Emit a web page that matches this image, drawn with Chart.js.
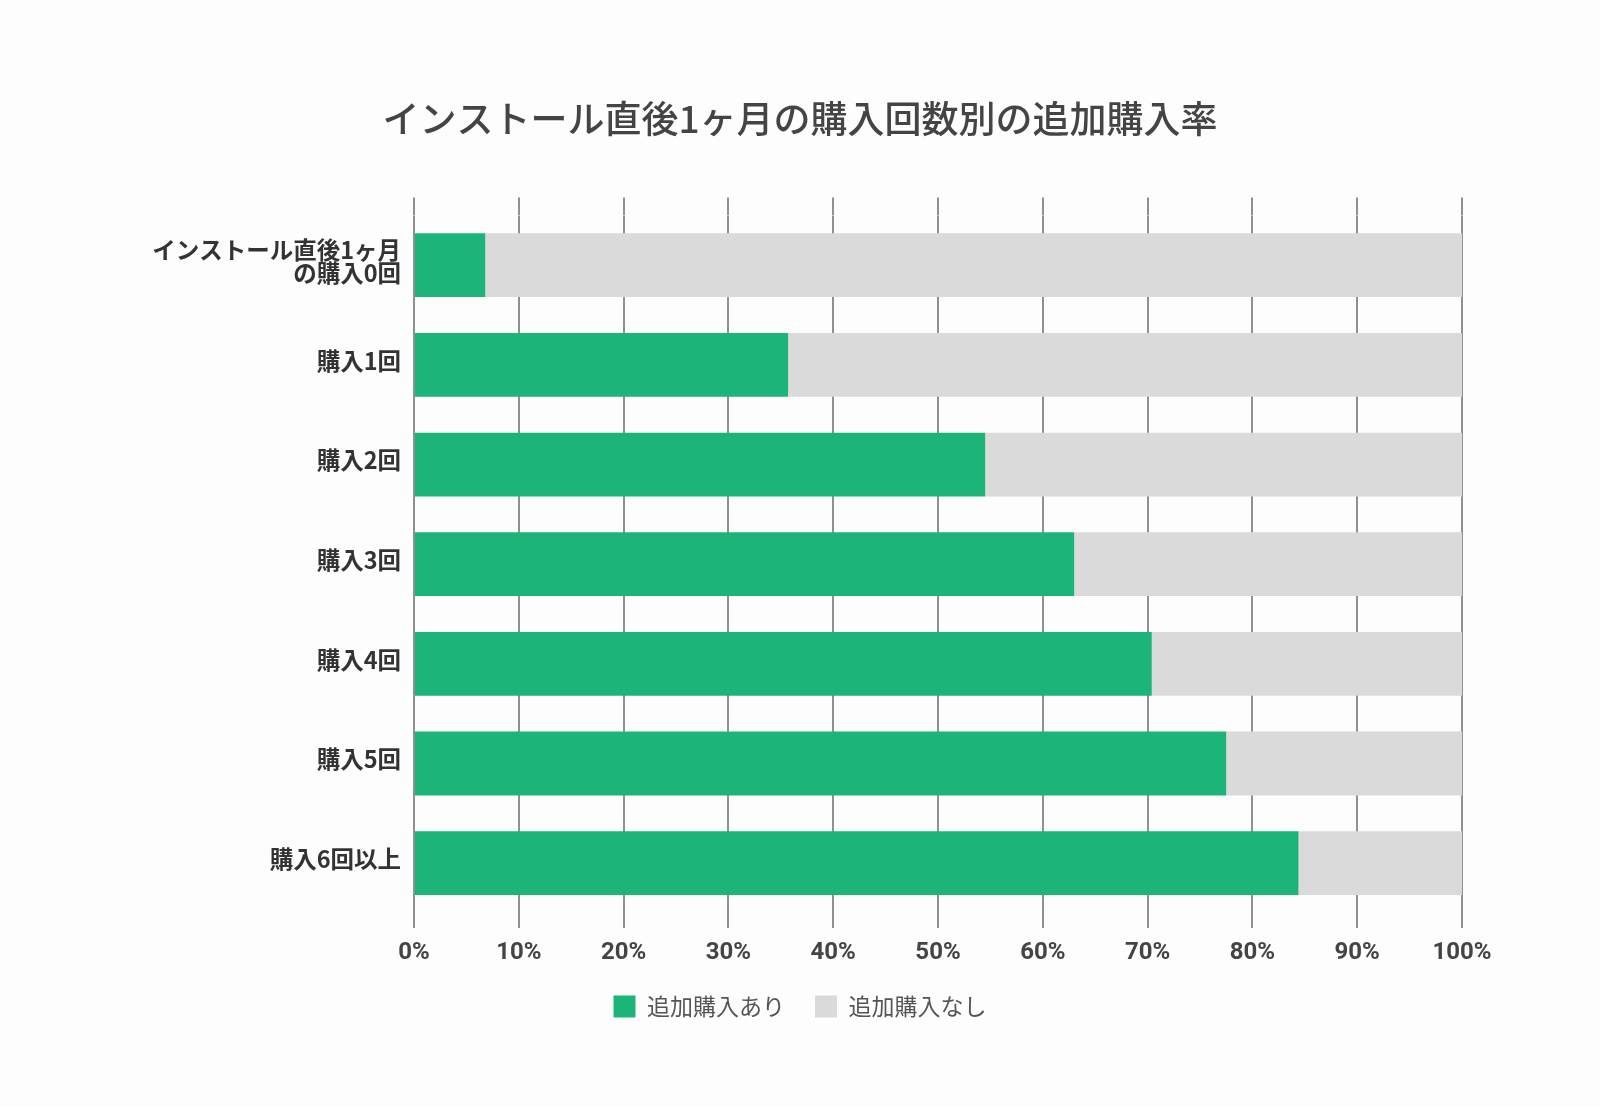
<!DOCTYPE html>
<html>
<head>
<meta charset="utf-8">
<script src="https://cdn.jsdelivr.net/npm/chart.js@4.4.1/dist/chart.umd.min.js"></script>
<style>
  html, body { margin: 0; padding: 0; background: #fcfdfc; }
  #wrap { width: 1600px; height: 1107px; position: relative; }
</style>
</head>
<body>
<div id="wrap"><canvas id="c"></canvas></div>
<script>
const titleText = 'インストール直後1ヶ月の購入回数別の追加購入率';
const categories = [
  ['インストール直後1ヶ月', 'の購入0回'],
  '購入1回', '購入2回', '購入3回', '購入4回', '購入5回', '購入6回以上'
];
const seriesNames = ['追加購入あり', '追加購入なし'];
const withPurchase = [6.8, 35.7, 54.5, 63.0, 70.4, 77.5, 84.4];
const withoutPurchase = [93.2, 64.3, 45.5, 37.0, 29.6, 22.5, 15.6];
const xTicks = [0, 10, 20, 30, 40, 50, 60, 70, 80, 90, 100];

const GREEN = '#1db47a';
const GRAY = '#dadada';
const GRID = '#909090';

new Chart(document.getElementById('c'), {
  type: 'bar',
  data: {
    labels: categories,
    datasets: [
      { label: seriesNames[0], data: withPurchase, backgroundColor: GREEN, borderWidth: 0 },
      { label: seriesNames[1], data: withoutPurchase, backgroundColor: GRAY, borderWidth: 0 }
    ]
  },
  options: {
    indexAxis: 'y',
    responsive: true,
    maintainAspectRatio: false,
    animation: false,
    devicePixelRatio: 1,
    datasets: { bar: { barPercentage: 0.64, categoryPercentage: 1.0 } },
    layout: { padding: { top: 97, right: 0, bottom: 79, left: 0 } },
    plugins: {
      title: {
        display: true,
        text: titleText,
        color: '#444',
        font: { family: '"Noto Sans CJK JP"', size: 37, weight: '500', lineHeight: 1.2 },
        padding: { top: 0, bottom: 56 }
      },
      legend: {
        position: 'bottom',
        labels: {
          boxWidth: 22, boxHeight: 22, padding: 30,
          color: '#555',
          font: { family: '"Noto Sans CJK JP"', size: 23, weight: '400' }
        }
      },
      tooltip: { enabled: false }
    },
    scales: {
      x: {
        stacked: true,
        min: 0, max: 100,
        afterBuildTicks: (s) => { s.ticks = xTicks.map(v => ({ value: v })); },
        afterFit: (s) => { s.height = 52; },
        grid: { color: GRID, lineWidth: 2, drawTicks: true, tickLength: 15 },
        border: { display: false },
        ticks: {
          padding: 13,
          color: '#444',
          font: { family: 'Roboto', size: 24, weight: 'bold', lineHeight: 1.0 },
          callback: (v) => v + '%'
        }
      },
      x2: {
        position: 'top',
        min: 0, max: 100,
        afterBuildTicks: (s) => { s.ticks = xTicks.map(v => ({ value: v })); },
        grid: { color: GRID, lineWidth: 2, drawTicks: true, tickLength: 18, drawOnChartArea: false },
        border: { display: false },
        ticks: { display: false }
      },
      y: {
        stacked: true,
        afterFit: (s) => { s.width = 414; },
        grid: { display: false, drawTicks: false },
        border: { display: false },
        ticks: {
          padding: 13,
          labelOffset: -4,
          color: '#333',
          font: { family: '"Noto Sans CJK JP"', size: 23.5, weight: 'bold', lineHeight: 0.98 }
        }
      },
      yRight: {
        type: 'linear',
        position: 'right',
        afterFit: (s) => { s.width = 138; },
        grid: { display: false, drawTicks: false },
        border: { display: false },
        ticks: { display: false }
      }
    }
  }
});
</script>
</body>
</html>
